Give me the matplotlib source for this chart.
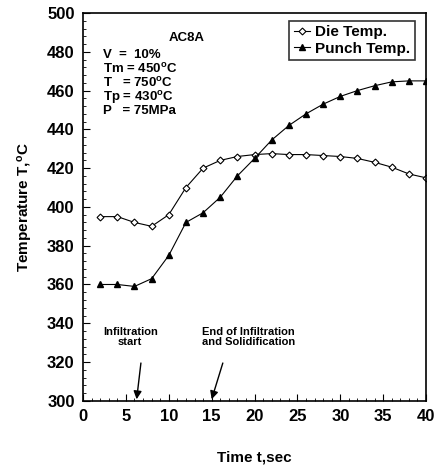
import matplotlib
matplotlib.use("Agg")
import matplotlib.pyplot as plt
from matplotlib.ticker import MultipleLocator

plt.rcParams["font.family"] = ["Liberation Sans", "DejaVu Sans"]
plt.rcParams["font.weight"] = "bold"

# --- data ---
time_s = [2, 4, 6, 8, 10, 12, 14, 16, 18, 20, 22, 24, 26, 28, 30, 32, 34, 36, 38, 40]
die_temp = [395, 395, 392, 390, 396, 410, 420, 424, 426, 427, 427.5, 427, 427, 426.5, 426, 425, 423, 420.5, 417, 415]
punch_temp = [360, 360, 359, 363, 375, 392, 397, 405, 416, 425, 434.5, 442, 448, 453, 457, 460, 462.5, 464.5, 465, 465]

fig = plt.figure(figsize=(4.37, 4.65), dpi=100)
ax = fig.add_axes([0.19, 0.138, 0.785, 0.834])

ax.plot(time_s, die_temp, color="black", lw=0.8, marker="D", ms=3.5,
        mfc="white", mec="black", mew=0.8, label="Die Temp.")
ax.plot(time_s, punch_temp, color="black", lw=0.8, marker="^", ms=4.5,
        mfc="black", mec="black", label="Punch Temp.")

ax.set_xlim(0, 40)
ax.set_ylim(300, 500)
ax.xaxis.set_major_locator(MultipleLocator(5))
ax.xaxis.set_minor_locator(MultipleLocator(1))
ax.yaxis.set_major_locator(MultipleLocator(20))
ax.yaxis.set_minor_locator(MultipleLocator(4))
ax.tick_params(which="both", direction="in", top=False, right=False)
ax.tick_params(which="major", length=5, width=0.8, labelsize=12, pad=6)
ax.tick_params(which="minor", length=2.5, width=0.6)
for s in ax.spines.values():
    s.set_linewidth(1.2)

ax.set_xlabel("Time t,sec", fontsize=11, fontweight="bold", labelpad=19)
ax.set_ylabel("Temperature T,$\\mathregular{^oC}$", fontsize=11, fontweight="bold", labelpad=9)

leg = ax.legend(loc="upper right", bbox_to_anchor=(0.967, 0.98), fontsize=11,
                frameon=True, fancybox=False, edgecolor="black",
                handlelength=1.1, handletextpad=0.3, borderpad=0.3,
                labelspacing=0.15, borderaxespad=0)
leg.get_frame().set_linewidth(1.2)

ax.text(12.1, 487, "AC8A", ha="center", va="center", fontsize=9.5, fontweight="bold")
params = ["V  =  10%", "Tm = 450$\\mathregular{^oC}$", "T   = 750$\\mathregular{^oC}$",
          "Tp = 430$\\mathregular{^oC}$", "P   = 75MPa"]
for i, t in enumerate(params):
    ax.text(2.3, 478.5 - i * 7.3, t, ha="left", va="center", fontsize=9.5, fontweight="bold")

ax.text(5.5, 333, "Infiltration\nstart", ha="center", va="center",
        fontsize=8, fontweight="bold", linespacing=1.0)
ax.text(19.3, 333, "End of Infiltration\nand Solidification", ha="center", va="center",
        fontsize=8, fontweight="bold", linespacing=1.0)
arrow = dict(arrowstyle="-|>", color="black", lw=1, mutation_scale=12, shrinkA=0, shrinkB=0)
ax.annotate("", xy=(6.25, 300.8), xytext=(6.75, 319.5), arrowprops=arrow)
ax.annotate("", xy=(15.0, 300.8), xytext=(16.3, 319.5), arrowprops=arrow)

fig.savefig("out.png", dpi=100)
